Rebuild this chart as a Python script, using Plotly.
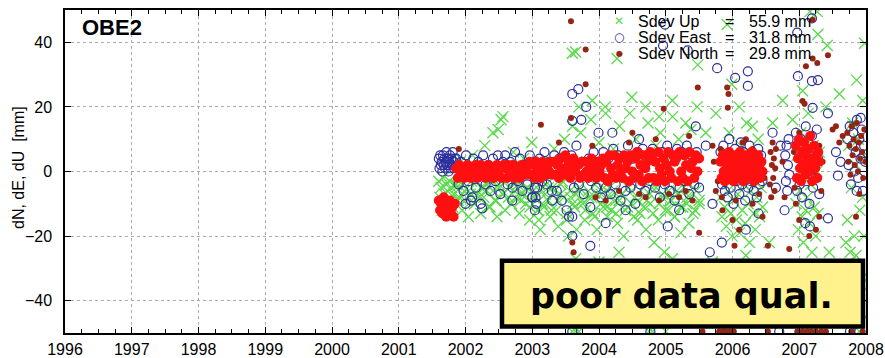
import numpy as np
import plotly.graph_objects as go

# ---------------- data ----------------
# decimal-year spans of the dense (regularly sampled) solution blocks
seg_A = (2001.60, 2001.84)
seg_B = (2001.86, 2005.50)
seg_C = (2005.82, 2006.45)
seg_E = (2006.95, 2007.30)
seg_F = (2007.72, 2007.99)

# North component [mm]
north_A = [-9, -12, -10, -13, -8, -11, -14, -10, -12, -9, -13, -11, -14, -10]
north_B = [1, -2, 2, -1, 0, -2, 1, 2, -1, -2, 1, 0, 2, -2, 1,
           2, -1, 0, -2, 1, 2, -1, 1, -2, 0, 2, -1, 1, -2, 2,
           1, -2, 2, 0, -1, 2, -2, 1, 0, -2, 2, 1, -1, 0, 2,
           3, -1, 2, -2, 3, 0, 1, -2, 3, 1, -1, 2, 0, 3, -1,
           3, -1, 2, -2, 4, 1, -1, 5, 0, 3, -2, 2, 4, 0, 2,
           2, -2, 3, -1, 3, 0, -2, 2, 4, -1, 1, -2, 3, 0, 2,
           4, -2, 3, -3, 5, 1, -1, 5, -2, 2, 4, 0, -2, 5, 1,
           3, -3, 5, 0, -2, 4, 6, -1, 2, -3, 5, 1, 3, -2, 6,
           5, -2, 3, -3, 6, 1, -1, 4, -3, 2, 6, 0, -2, 5, 3,
           4, -3, 6, 0, -2, 5, 2, -3, 6, 1, 3, -2, 5, 0, 4]
north_C = [3, -2, 5, 0, -3, 4, 1, -1, 6, -2, 2, 4, -3, 0, 5, 1, -2, 3, 6, -1,
           2, -3, 4, 0, 5, -2, 1, 3, -1, 6, 0, -3, 4, 2, -1, 5, 1, -2, 3, 0]
north_E = [8, -2, 4, 10, 1, -3, 6, 2, 9, -1, 5, 3, 7, 0, 11, 4, -3, 2, 8, 1, 5, -2, 6, 3]
north_F = [12, 3, 8, -1, 14, 5, 10, 2, 7, 15, 0, 9, 4, 11, 6, -2, 13, 3]
north_out = [(2001.90, 7), (2003.13, 14.5), (2003.58, 46.5), (2003.58, 16.6), (2003.60, -22),
             (2003.62, -25), (2003.80, 37.8), (2003.80, 27), (2003.95, -8), (2004.60, -7),
             (2004.90, -9), (2005.20, -8), (2004.97, 19.4), (2004.50, 12), (2003.40, 9),
             (2005.48, 26), (2005.92, 26), (2005.93, 19.7), (2005.94, 24), (2005.50, -19),
             (2005.70, 8), (2005.75, -6), (2005.85, -12), (2006.00, -15), (2006.03, -23),
             (2006.10, -18), (2006.20, 10), (2006.30, -10), (2006.45, -14), (2006.53, -23),
             (2006.56, -4), (2006.57, 6), (2006.58, -8), (2006.59, 2), (2006.60, 9),
             (2006.61, -2), (2006.62, 4), (2006.63, -6), (2006.64, 1), (2006.65, 7),
             (2006.75, 3), (2006.78, -8), (2006.85, -24), (2006.95, -10), (2007.00, -15),
             (2007.05, 21.8), (2007.08, 21), (2007.10, 32.6), (2007.20, 47), (2007.20, 35),
             (2007.27, 33.6), (2007.43, 36), (2007.15, -20), (2007.25, -18), (2007.30, -14),
             (2007.50, 13), (2007.55, 14), (2007.85, -14), (2007.90, -7),
             (2004.30, -6), (2004.45, 9), (2004.70, -8), (2004.85, 10), (2005.05, -7),
             (2005.30, -6), (2005.35, 11), (2003.90, 8), (2004.10, -9), (2005.40, -9),
             (2005.72, 3), (2005.78, -3), (2005.82, 7), (2005.84, -8), (2006.05, -9),
             (2006.15, 9), (2006.30, 7), (2006.40, -7), (2006.42, 4), (2006.48, -2),
             (2006.92, 6), (2006.93, -5), (2007.00, 12), (2007.30, 8), (2007.33, -6),
             (2007.35, 3), (2007.60, 9), (2007.65, 11),
             (2005.55, -49.5), (2005.80, -49.5), (2005.86, -49.5), (2005.90, -49.5),
             (2005.96, -49.5), (2006.02, -49.5), (2006.53, -49.5), (2006.97, -49.5),
             (2007.05, -49.5), (2007.12, -49.5), (2007.18, -49.5), (2007.25, -49.5),
             (2007.33, -49.5), (2007.40, -49.5), (2007.78, -49.5), (2007.95, -49.5)]

# East component [mm]
east_A = [4, 1, 5, 2, 3, 0, 5, 2, 4, 1, 3, 6, 2, 4, 0, 3, 5, 1, 4, 2, 6, 3, 1, 4]
east_B = [4, -4, 3, -6, 5, -3, -9, 4, -5, 3, -10, 5, -4, 2, -6, 4, -3, 5, -7, 3,
          5, -4, 3, -5, 6, -3, 4, -6, 2, -4, 5, -8, 3, -5, 4, -3, 6, -4, 3, -6,
          5, -6, 4, -9, 6, -12, -14, 5, -5, 8, -4, 16, -7, 20, 4, -3, 6, -5, 12, -8,
          6, -5, 4, -7, 7, -4, 5, -9, 3, -6, 8, -5, 4, -10, 6, -4, 7, -6, 5, -3,
          7, -5, 5, -8, 6, -4, 8, -6, 4, -9, 7, -5, 6, -3, 8, -7, 5, -4, 6, -5]
east_C = [6, -4, 8, -6, 4, -8, 10, -5, 3, -10, 7, -3, 5, -7, 9, -4, 6, -9, 4, -5,
          8, -3, 6, -6, 4, -8, 7, -4, 5, -3]
east_E = [12, -6, 8, -4, 10, -8, 6, 2, 14, -3, 9, -10, 5, 11, -5, 7, -2, 13, 4, -7]
east_F = [10, 2, 14, -4, 8, 12, 0, 6, 16, -2, 10, 4, 13, -6, 8, 3]
east_out = [(2003.60, 24), (2003.69, 25.5), (2003.60, 15.7), (2004.99, 45.5), (2004.96, 39),
            (2005.33, 37.5), (2005.77, 32), (2006.04, 29), (2006.23, 31), (2006.23, 26.5),
            (2007.19, 47.4), (2006.97, 43), (2006.98, 29.5), (2007.19, 28), (2007.28, 28.3),
            (2007.92, 16.6), (2007.43, 18), (2007.20, 19.7), (2002.25, -11.4), (2003.60, -14),
            (2003.60, -20), (2003.87, -11), (2005.03, -17), (2003.87, -23), (2005.66, -25),
            (2006.20, -18), (2005.84, -22), (2006.39, -13), (2007.43, -14.5), (2007.86, -6),
            (2007.58, -1.3), (2007.09, -16), (2007.16, -17), (2004.20, 12), (2004.60, 10),
            (2005.45, 14), (2005.60, 8), (2005.70, -10), (2006.60, 12), (2006.65, -5),
            (2006.72, 8), (2006.78, -12), (2007.55, 6), (2007.62, 3), (2002.00, -10),
            (2002.10, -8), (2002.70, -9), (2003.00, -8), (2003.30, -9), (2004.40, -12),
            (2004.10, -16), (2005.20, -12), (2003.04, -5), (2003.05, -8), (2003.06, -10),
            (2003.04, -12), (2006.79, 5), (2006.80, -3), (2006.81, 8), (2006.82, -6),
            (2006.83, 2), (2006.84, 10), (2006.85, -1),
            (2003.60, -49.5), (2004.77, -49.5), (2006.70, -49.5), (2007.76, -49.5),
            (2007.90, -49.5)]

# Up component [mm]
up_A = [-3, -8, -5, -12, -2, -7, -10, -4, -6, -13, -3, -9, -5, -11, -7, -4]
up_B = [-4, -9, 3, -12, -6, -2, -14, -7, 5, -10, -3, -8, -13, -5, 8,
        -6, -11, -3, 12, -9, -14, -4, 16, -7, -12, 2, -5, -10, 6, -8,
        -3, -13, -7, 4, -10, -5, -15, 9, -8, -2, -12, -6, 3, -11, -4,
        -9, -14, -5, 7, -12, -17, -7, -3, 10, -15, -20, -8, 14, -11, -18,
        -6, 12, -10, -15, 3, -8, 16, -13, -4, -18, 9, -7, -11, 20, -14,
        -5, -12, 7, -9, -16, 14, -7, -20, 4, -11, 18, -6, -14, 10, -9,
        -13, 5, -8, -18, 15, -10, -5, -22, 8, -15, 12, -7, -25, 3, -12,
        -9, 17, -14, -6, 10, -19, -11, 6, -8, -16, 13, -5, -12, 20, -10]
# second pass over the same block: the dense green mass just below the red band
up_B2 = [-5, -8, -4, -9, -6, -3, -10, -7, -5, -8, -4, -11, -6, -9, -5, -7, -3, -8, -10, -6,
         -4, -9, -7, -5, -11, -6, -8, -4, -10, -7, -5, -12, -6, -9, -4, -8, -13, -6, -10, -7,
         -5, -9, -12, -6, -8, -14, -7, -10, -5, -11, -8, -6, -13, -9, -7, -12, -5, -10, -8, -15,
         -6, -11, -9, -7, -13, -5, -10, -8, -12, -6, -9, -14, -7, -11, -5, -10, -8, -13, -6, -9]
up_C = [-8, -14, 5, -11, -17, -6, 12, -13, -20, -9, 3, -15, -7, -19, 8, -12, -4, -16, 15, -10,
        -22, -6, 2, -13, -18, -8, 10, -14, -5, -11]
up_E = [-10, 5, -18, -6, 12, -14, -22, 2, -12, -8, 18, -16, -4, -25, 8, -11, -20, 0, -13, 6]
up_F = [-15, 8, -25, -5, 14, -20, 2, -30, 10, -12, -35, -8, 5, -40]
up_out = [(2003.60, 36.6), (2003.65, 37), (2002.56, 17), (2002.49, 13), (2005.92, 45.5),
          (2007.16, 49.5), (2007.27, 49.5), (2007.28, 42.5), (2007.42, 39), (2007.98, 39.7),
          (2007.86, 28.3), (2005.48, 33), (2005.99, 27), (2004.49, 23), (2004.27, 35),
          (2003.70, 20), (2003.90, 22), (2004.10, 18), (2004.70, 20), (2004.90, 17),
          (2005.10, 22), (2005.30, 15), (2005.60, 12), (2005.75, 18), (2006.10, 20),
          (2006.30, 14), (2006.60, 15), (2006.75, 22), (2006.90, 16), (2007.05, 25),
          (2007.40, 20), (2007.60, 24), (2007.80, 15), (2007.95, 22),
          (2003.10, -15), (2003.12, -18), (2003.08, -12),
          (2003.60, -49.5), (2003.65, -49.5), (2003.70, -49.5), (2004.75, -49.5),
          (2004.80, -49.5), (2005.00, -49.5), (2007.30, -49.5), (2007.90, -49.5),
          (2003.60, -30), (2003.65, -27), (2004.00, -28), (2004.30, -25), (2004.55, -32),
          (2004.80, -30), (2005.10, -27), (2005.30, -30), (2005.55, -35), (2005.70, -28),
          (2005.80, -40), (2006.00, -30), (2006.20, -26), (2006.40, -38), (2006.55, -22),
          (2006.70, -32), (2006.85, -45), (2007.00, -35), (2007.20, -30), (2007.45, -25),
          (2007.55, -38), (2007.70, -22), (2007.85, -26), (2007.97, -20), (2007.99, -32),
          (2007.98, -45), (2005.90, -45), (2006.30, -42), (2004.30, -40), (2003.80, -38)]

legend_names = ["Sdev Up", "Sdev East", "Sdev North"]
legend_values = ["55.9 mm", "31.8 mm", "29.8 mm"]
station = "OBE2"
note = "poor data qual."
y_title = "dN, dE, dU\u00a0\u00a0[mm]"
year_ticks = list(range(1996, 2009))
y_ticks = [-40, -20, 0, 20, 40]


def epochs(seg, vals):
    return list(np.linspace(seg[0], seg[1], len(vals)))


def build(blocks, outliers=()):
    t, v = [], []
    for seg, vals in blocks:
        t += epochs(seg, vals)
        v += list(vals)
    for a, b in outliers:
        t.append(a)
        v.append(b)
    return t, v


up_t, up_v = build([(seg_A, up_A), (seg_B, up_B), (seg_B, up_B2), (seg_C, up_C), (seg_E, up_E),
                    (seg_F, up_F)], up_out)
east_t, east_v = build([(seg_A, east_A), (seg_B, east_B), (seg_C, east_C), (seg_E, east_E),
                        (seg_F, east_F)], east_out)
nd_t, nd_v = build([(seg_A, north_A), (seg_B, north_B), (seg_C, north_C), (seg_E, north_E)])
no_t, no_v = build([(seg_F, north_F)], north_out)

GREEN = "#5ad94a"
BLUE = "#2b2f9c"
DARKRED = "#952415"
RED = "#ff1010"
FONT = "Liberation Sans, Arial, sans-serif"

fig = go.Figure()
fig.add_trace(go.Scatter(x=up_t, y=up_v, mode="markers", name="Up", showlegend=False,
                         marker=dict(symbol="x-thin-open", size=11, color=GREEN,
                                     line=dict(width=1.3, color=GREEN))))
fig.add_trace(go.Scatter(x=east_t, y=east_v, mode="markers", name="East", showlegend=False,
                         marker=dict(symbol="circle-open", size=9, color=BLUE,
                                     line=dict(width=1.2, color=BLUE))))
fig.add_trace(go.Scatter(x=no_t, y=no_v, mode="markers", name="North", showlegend=False,
                         marker=dict(symbol="circle", size=6, color=DARKRED)))
fig.add_trace(go.Scatter(x=nd_t, y=nd_v, mode="markers", name="North", showlegend=False,
                         marker=dict(symbol="circle", size=10, color=RED)))

# plot-area pixel geometry helpers (for placing decorations)
X0, X1, YB, YT = 65, 866, 333.5, 9.5


def px(x):
    return (x - X0) / (X1 - X0)


def py(y):
    return (YB - y) / (YB - YT)


ann = []
ann.append(dict(text="<b>" + station + "</b>", x=px(80), y=py(27.5), xref="paper", yref="paper",
                xanchor="left", yanchor="middle", showarrow=False,
                font=dict(family=FONT, size=22, color="black")))
ann.append(dict(text=y_title, x=px(18), y=py(168), xref="paper", yref="paper",
                xanchor="center", yanchor="middle", showarrow=False, textangle=-90,
                font=dict(family=FONT, size=16, color="black")))
rows = [21, 37, 53]
syms = [("\u2715", GREEN, 12, "DejaVu Sans"), ("\u25cb", BLUE, 12, "DejaVu Sans"),
        ("\u25cf", DARKRED, 8, "DejaVu Sans")]
for i in range(3):
    s, c, sz, fam = syms[i]
    ann.append(dict(text=s, x=px(619), y=py(rows[i]), xref="paper", yref="paper",
                    xanchor="center", yanchor="middle", showarrow=False, borderpad=0,
                    font=dict(family=fam, size=sz, color=c)))
    ann.append(dict(text=legend_names[i], x=px(637), y=py(rows[i]), xref="paper", yref="paper",
                    xanchor="left", yanchor="middle", showarrow=False, borderpad=0,
                    font=dict(family=FONT, size=16, color="black")))
    ann.append(dict(text="=", x=px(729), y=py(rows[i]), xref="paper", yref="paper",
                    xanchor="center", yanchor="middle", showarrow=False, borderpad=0,
                    font=dict(family=FONT, size=16, color="black")))
    ann.append(dict(text=legend_values[i], x=px(812), y=py(rows[i]), xref="paper", yref="paper",
                    xanchor="right", yanchor="middle", showarrow=False, borderpad=0,
                    font=dict(family=FONT, size=16, color="black")))
ann.append(dict(text="<b>" + note + "</b>", x=px(681.5), y=py(296), xref="paper", yref="paper",
                xanchor="center", yanchor="middle", showarrow=False,
                font=dict(family="DejaVu Sans", size=35, color="black")))

fig.update_layout(
    width=885, height=358,
    margin=dict(l=X0, r=885 - X1, t=YT, b=358 - YB, autoexpand=False),
    paper_bgcolor="white", plot_bgcolor="white",
    font=dict(family=FONT, size=16, color="black"),
    showlegend=False,
    annotations=ann,
    shapes=[dict(type="rect", xref="paper", yref="paper", x0=px(502), x1=px(863),
                 y0=py(327), y1=py(261), fillcolor="#fff18c",
                 line=dict(color="black", width=4.5), layer="above")],
)
fig.update_xaxes(range=[1996, 2008], tickvals=year_ticks, ticktext=[str(y) for y in year_ticks],
                 ticks="inside", ticklen=6, tickcolor="black", showline=True, linecolor="black",
                 linewidth=1.5, mirror="allticks", showgrid=True, gridcolor="#aaaaaa",
                 griddash="dot", gridwidth=1, zeroline=False, ticklabelstandoff=1,
                 automargin=False,
                 minor=dict(dtick=0.25, tick0=1996, ticks="inside", ticklen=4, tickcolor="black",
                            showgrid=False),
                 tickfont=dict(size=16, family=FONT))
fig.update_yaxes(range=[-50, 50], tickvals=y_ticks, ticks="inside", ticklen=6, tickcolor="black",
                 showline=True, linecolor="black", linewidth=1.5, mirror="allticks",
                 showgrid=True, gridcolor="#aaaaaa", griddash="dot", gridwidth=1,
                 zeroline=False, ticklabelstandoff=8, tickfont=dict(size=16, family=FONT),
                 automargin=False)

fig.write_html("out.html")
